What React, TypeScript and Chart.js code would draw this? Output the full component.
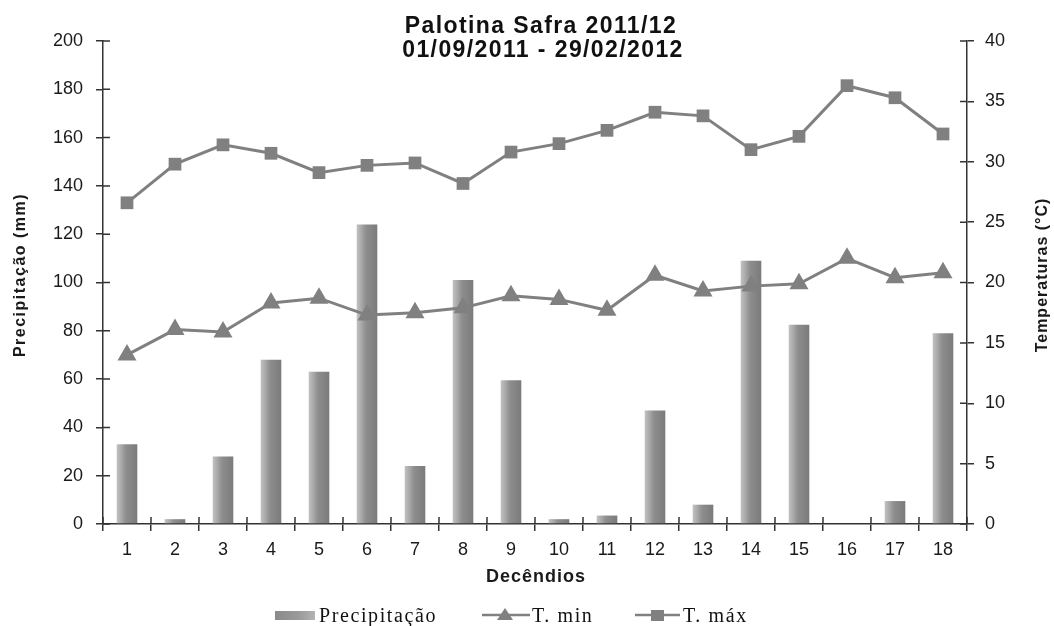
import React, { useEffect, useRef } from "react";
import { Chart, registerables } from "chart.js";

Chart.register(...registerables);

const categories = ["1","2","3","4","5","6","7","8","9","10","11","12","13","14","15","16","17","18"];
const precipitacao = [33, 2, 28, 68, 63, 124, 24, 101, 59.5, 2, 3.5, 47, 8, 109, 82.5, 0, 9.5, 79];
const tMin = [14, 16.1, 15.9, 18.3, 18.7, 17.3, 17.5, 17.9, 18.9, 18.6, 17.7, 20.6, 19.3, 19.7, 19.9, 22, 20.4, 20.8];
const tMax = [26.6, 29.8, 31.4, 30.7, 29.1, 29.7, 29.9, 28.2, 30.8, 31.5, 32.6, 34.1, 33.8, 31, 32.1, 36.3, 35.3, 32.3];
const titleLines = ["Palotina Safra 2011/12", "01/09/2011 - 29/02/2012"];
const legendLabels = ["Precipitação", "T. min", "T. máx"];
const axisTitles = { x: "Decêndios", y: "Precipitação (mm)", y1: "Temperaturas (°C)" };

const GRAY = "#808080";
const AXIS = "#333333";
const TEXT = "#1a1a1a";
const FONT = "'Liberation Sans', Arial, sans-serif";
const SERIF = "'Liberation Serif', 'Times New Roman', serif";

function barGradient(ctx: CanvasRenderingContext2D, x: number, w: number) {
  const g = ctx.createLinearGradient(x - w / 2, 0, x + w / 2, 0);
  g.addColorStop(0, "#c4c4c4");
  g.addColorStop(0.45, "#8e8e8e");
  g.addColorStop(1, "#7a7a7a");
  return g;
}

const decorPlugin = {
  id: "decor",
  afterDraw(chart: any) {
    const ctx: any = chart.ctx;
    const { y, y1 } = chart.scales;
    const area = chart.chartArea;
    ctx.save();
    ctx.strokeStyle = AXIS;
    ctx.lineWidth = 1.5;
    ctx.beginPath();
    y.ticks.forEach((_t: any, i: number) => {
      const py = y.getPixelForTick(i);
      ctx.moveTo(area.left, py);
      ctx.lineTo(area.left + 7, py);
    });
    y1.ticks.forEach((_t: any, i: number) => {
      const py = y1.getPixelForTick(i);
      ctx.moveTo(area.right, py);
      ctx.lineTo(area.right - 7, py);
    });
    const n = categories.length;
    for (let i = 0; i <= n; i++) {
      const px = area.left + (i * (area.right - area.left)) / n;
      ctx.moveTo(px, area.bottom);
      ctx.lineTo(px, area.bottom - 7);
    }
    ctx.stroke();

    // title
    ctx.fillStyle = "#111";
    ctx.font = `bold 23px ${FONT}`;
    ctx.letterSpacing = "1.4px";
    ctx.textAlign = "center";
    ctx.textBaseline = "alphabetic";
    ctx.fillText(titleLines[0], 541, 33);
    ctx.fillText(titleLines[1], 543, 57);

    // x axis title
    ctx.font = `bold 18px ${FONT}`;
    ctx.letterSpacing = "1px";
    ctx.textBaseline = "middle";
    ctx.fillStyle = TEXT;
    ctx.fillText(axisTitles.x, 536, 577);

    // y titles
    ctx.save();
    ctx.translate(21, 275);
    ctx.rotate(-Math.PI / 2);
    ctx.font = `bold 16px ${FONT}`;
    ctx.letterSpacing = "1.5px";
    ctx.fillText(axisTitles.y, 0, 0);
    ctx.restore();
    ctx.save();
    ctx.translate(1043, 275);
    ctx.rotate(-Math.PI / 2);
    ctx.font = `bold 16px ${FONT}`;
    ctx.letterSpacing = "1px";
    ctx.fillStyle = TEXT;
    ctx.textAlign = "center";
    ctx.textBaseline = "middle";
    ctx.fillText(axisTitles.y1, 0, 0);
    ctx.restore();

    // legend
    const base = 622;
    const mid = 615;
    ctx.font = `20px ${SERIF}`;
    ctx.letterSpacing = "1.6px";
    ctx.textAlign = "left";
    ctx.textBaseline = "alphabetic";
    const g = ctx.createLinearGradient(275, 0, 315, 0);
    g.addColorStop(0, "#8a8a8a");
    g.addColorStop(0.6, "#9a9a9a");
    g.addColorStop(1, "#b4b4b4");
    ctx.fillStyle = g;
    ctx.fillRect(275, mid - 4, 40, 9);
    ctx.fillStyle = "#111";
    ctx.fillText(legendLabels[0], 319, base);

    ctx.strokeStyle = GRAY;
    ctx.lineWidth = 2.5;
    ctx.beginPath();
    ctx.moveTo(482, mid);
    ctx.lineTo(530, mid);
    ctx.stroke();
    ctx.fillStyle = GRAY;
    ctx.beginPath();
    ctx.moveTo(505, mid - 7);
    ctx.lineTo(513, mid + 5);
    ctx.lineTo(497, mid + 5);
    ctx.closePath();
    ctx.fill();
    ctx.fillStyle = "#111";
    ctx.fillText(legendLabels[1], 532, base);

    ctx.strokeStyle = GRAY;
    ctx.beginPath();
    ctx.moveTo(635, mid);
    ctx.lineTo(680, mid);
    ctx.stroke();
    ctx.fillStyle = GRAY;
    ctx.fillRect(651, mid - 5, 13, 11);
    ctx.fillStyle = "#111";
    ctx.fillText(legendLabels[2], 683, base);
    ctx.letterSpacing = "0px";
    ctx.restore();
  },
};

export default function App() {
  const ref = useRef<HTMLCanvasElement | null>(null);
  useEffect(() => {
    document.body.style.margin = "0";
    if (!ref.current) return;
    const tickFont = { family: FONT, size: 18 };
    const chart = new Chart(ref.current, {
      type: "bar",
      data: {
        labels: categories,
        datasets: [
          {
            type: "line",
            label: legendLabels[2],
            data: tMax,
            yAxisID: "y1",
            borderColor: GRAY,
            backgroundColor: GRAY,
            borderWidth: 3,
            pointStyle: "rect",
            pointRadius: 9,
            pointBorderWidth: 0,
            tension: 0,
            order: 0,
          } as any,
          {
            type: "line",
            label: legendLabels[1],
            data: tMin,
            yAxisID: "y1",
            borderColor: GRAY,
            backgroundColor: GRAY,
            borderWidth: 3,
            pointStyle: "triangle",
            pointRadius: 11,
            pointBorderWidth: 0,
            tension: 0,
            order: 0,
          } as any,
          {
            type: "bar",
            label: legendLabels[0],
            data: precipitacao,
            yAxisID: "y",
            barPercentage: 0.43,
            categoryPercentage: 1,
            borderWidth: 0,
            backgroundColor: (c: any) => {
              const ch = c.chart;
              const xs = ch.scales && ch.scales.x;
              if (!xs || c.dataIndex === undefined) return GRAY;
              const px = xs.getPixelForValue(c.dataIndex);
              if (!isFinite(px) || !ch.chartArea) return GRAY;
              return barGradient(ch.ctx, px, 21);
            },
            order: 1,
          } as any,
        ],
      },
      options: {
        animation: false,
        responsive: true,
        maintainAspectRatio: false,
        layout: { padding: { top: 41, bottom: 0, left: 0, right: 0 } },
        plugins: {
          legend: { display: false },
          title: { display: false },
          tooltip: { enabled: false },
        },
        scales: {
          x: {
            afterFit: (s: any) => { s.height = 102; },
            grid: { offset: true, drawOnChartArea: false, drawTicks: true, tickLength: 7, color: AXIS, lineWidth: 1.5 },
            border: { color: AXIS, width: 1.5 },
            ticks: { font: tickFont, color: TEXT, padding: 8, maxRotation: 0 },
          },
          y: {
            position: "left",
            min: 0,
            max: 200,
            afterFit: (s: any) => { s.width = 103; },
            ticks: { stepSize: 20, font: tickFont, color: TEXT, padding: 13 },
            grid: { drawOnChartArea: false, tickLength: 7, color: AXIS, lineWidth: 1.5 },
            border: { color: AXIS, width: 1.5 },
          },
          y1: {
            position: "right",
            min: 0,
            max: 40,
            afterFit: (s: any) => { s.width = 87; },
            ticks: { stepSize: 5, font: tickFont, color: TEXT, padding: 11 },
            grid: { drawOnChartArea: false, tickLength: 7, color: AXIS, lineWidth: 1.5 },
            border: { color: AXIS, width: 1.5 },
          },
        },
      },
      plugins: [decorPlugin],
    });
    return () => chart.destroy();
  }, []);
  return (
    <div style={{ position: "relative", width: "1054px", height: "626px" }}>
      <canvas ref={ref} />
    </div>
  );
}
